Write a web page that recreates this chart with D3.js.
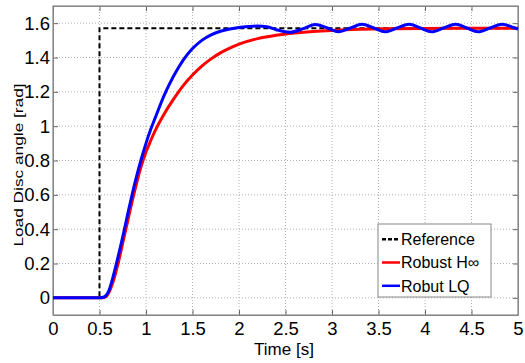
<!DOCTYPE html>
<html>
<head>
<meta charset="utf-8">
<script src="https://cdn.jsdelivr.net/npm/d3@7"></script>
<style>
  body { margin: 0; background: #fff; }
  svg { display: block; }
  .tick text { font-family: "Liberation Sans Narrow", "Arial Narrow", sans-serif; font-size: 18.5px; fill: #000; }
</style>
</head>
<body>
<svg id="chart" width="525" height="363"></svg>
<script>
// reference step
const refT = [0, 0.5, 0.5, 5];
const refV = [0, 0, 1.5708, 1.5708];

// Robust H-infinity response
const hinfT = [0, 0.5, 0.55, 0.6, 0.65, 0.7, 0.75, 0.8, 0.85, 0.9, 0.95, 1.0, 1.05, 1.1, 1.2, 1.3, 1.4, 1.5, 1.6, 1.7, 1.8, 1.9, 2.0, 2.2, 2.4, 2.6, 2.8, 3.0, 3.3, 3.6, 4.0, 4.5, 5.0];
const hinfV = [0, 0, 0.002, 0.03, 0.1, 0.2, 0.32, 0.44, 0.56, 0.67, 0.77, 0.85, 0.915, 0.975, 1.075, 1.16, 1.236, 1.298, 1.35, 1.392, 1.427, 1.455, 1.478, 1.51, 1.53, 1.543, 1.552, 1.558, 1.564, 1.567, 1.569, 1.57, 1.571];

// Robust LQ response
const lqT = [0, 0.5, 0.55, 0.6, 0.65, 0.7, 0.75, 0.8, 0.85, 0.9, 0.95, 1.0, 1.05, 1.1, 1.2, 1.3, 1.4, 1.5, 1.6, 1.7, 1.8, 1.9, 2.0, 2.1, 2.2, 2.3, 2.4, 2.55, 2.7, 2.82, 2.95, 3.07, 3.2, 3.32, 3.45, 3.57, 3.7, 3.83, 3.95, 4.07, 4.2, 4.33, 4.45, 4.57, 4.7, 4.83, 4.95, 5.0];
const lqV = [0, 0, 0.005, 0.04, 0.13, 0.24, 0.355, 0.48, 0.6, 0.71, 0.81, 0.9, 0.98, 1.05, 1.185, 1.295, 1.385, 1.452, 1.5, 1.532, 1.553, 1.566, 1.575, 1.58, 1.583, 1.579, 1.562, 1.547, 1.57, 1.592, 1.572, 1.55, 1.572, 1.594, 1.572, 1.55, 1.572, 1.594, 1.572, 1.55, 1.572, 1.594, 1.572, 1.55, 1.572, 1.594, 1.575, 1.565];

const xTicks = [0, 0.5, 1, 1.5, 2, 2.5, 3, 3.5, 4, 4.5, 5];
const yTicks = [0, 0.2, 0.4, 0.6, 0.8, 1, 1.2, 1.4, 1.6];
const legendLabels = ['Reference', 'Robust H\u221E', 'Robut LQ'];

const margin = { top: 6, right: 7, bottom: 48, left: 53 };
const width = 525 - margin.left - margin.right;
const height = 363 - margin.top - margin.bottom;

const svg = d3.select('#chart');
const g = svg.append('g')
  .attr('transform', `translate(${margin.left},${margin.top})`);

const x = d3.scaleLinear().domain([0, 5]).range([0, width]);
const y = d3.scaleLinear().domain([-0.1, 1.7]).range([height, 0]);

// grid
g.append('g').selectAll('line').data(xTicks.slice(1, -1)).enter().append('line')
  .attr('x1', d => x(d)).attr('x2', d => x(d))
  .attr('y1', 0).attr('y2', height)
  .attr('stroke', '#b0b0b0').attr('stroke-width', 1).attr('stroke-dasharray', '1,2');
g.append('g').selectAll('line').data(yTicks).enter().append('line')
  .attr('y1', d => y(d)).attr('y2', d => y(d))
  .attr('x1', 0).attr('x2', width)
  .attr('stroke', '#b0b0b0').attr('stroke-width', 1).attr('stroke-dasharray', '1,2');

// axes
const fmt = d => String(d);
g.append('g').attr('transform', `translate(0,${height})`)
  .call(d3.axisBottom(x).tickValues(xTicks).tickFormat(fmt).tickSizeInner(-5).tickSizeOuter(0).tickPadding(7));
g.append('g')
  .call(d3.axisLeft(y).tickValues(yTicks).tickFormat(fmt).tickSizeInner(-5).tickSizeOuter(0).tickPadding(3));
g.append('g')
  .call(d3.axisBottom(x).tickValues(xTicks).tickFormat('').tickSizeInner(5).tickSizeOuter(0));
g.append('g').attr('transform', `translate(${width},0)`)
  .call(d3.axisLeft(y).tickValues(yTicks).tickFormat('').tickSizeInner(5).tickSizeOuter(0));
g.selectAll('.domain').attr('stroke', '#888');
g.selectAll('.tick line').attr('stroke', '#666');

g.append('rect').attr('width', width).attr('height', height)
  .attr('fill', 'none').attr('stroke', '#888').attr('stroke-width', 1.2);

// lines
const line = d3.line().x(d => x(d[0])).y(d => y(d[1]));
const smooth = d3.line().x(d => x(d[0])).y(d => y(d[1])).curve(d3.curveMonotoneX);

g.append('path').datum(d3.zip(refT, refV))
  .attr('d', line).attr('fill', 'none').attr('stroke', '#000')
  .attr('stroke-width', 2).attr('stroke-dasharray', '5,3');
g.append('path').datum(d3.zip(hinfT, hinfV))
  .attr('d', smooth).attr('fill', 'none').attr('stroke', '#ff0000').attr('stroke-width', 3);
g.append('path').datum(d3.zip(lqT, lqV))
  .attr('d', smooth).attr('fill', 'none').attr('stroke', '#0000ff').attr('stroke-width', 3);

// axis titles
svg.append('text')
  .attr('transform', 'translate(23,165) rotate(-90) scale(1.33,1)')
  .attr('text-anchor', 'middle')
  .style('font-family', 'Liberation Sans, Arial, sans-serif').style('font-size', '13px')
  .text('Load Disc angle [rad]');
svg.append('text')
  .attr('x', 284).attr('y', 355)
  .attr('text-anchor', 'middle')
  .style('font-family', 'Liberation Sans Narrow, Arial Narrow, sans-serif').style('font-size', '17px')
  .text('Time [s]');

// legend
const leg = svg.append('g').attr('transform', 'translate(378,224)');
leg.append('rect').attr('width', 113).attr('height', 73)
  .attr('fill', '#fff').attr('stroke', '#888').attr('stroke-width', 1);
const legStyles = [
  { c: '#000', dash: '4,2' },
  { c: '#ff0000', dash: null },
  { c: '#0000ff', dash: null }
];
legendLabels.forEach((lab, i) => {
  const yy = 15.2 + i * 23.3;
  leg.append('line').attr('x1', 4).attr('x2', 22).attr('y1', yy).attr('y2', yy)
    .attr('stroke', legStyles[i].c).attr('stroke-width', 2.5)
    .attr('stroke-dasharray', legStyles[i].dash);
  leg.append('text').attr('x', 23).attr('y', yy + 5.8)
    .style('font-family', 'Liberation Sans, Arial, sans-serif').style('font-size', '16px')
    .text(lab);
});
</script>
</body>
</html>
